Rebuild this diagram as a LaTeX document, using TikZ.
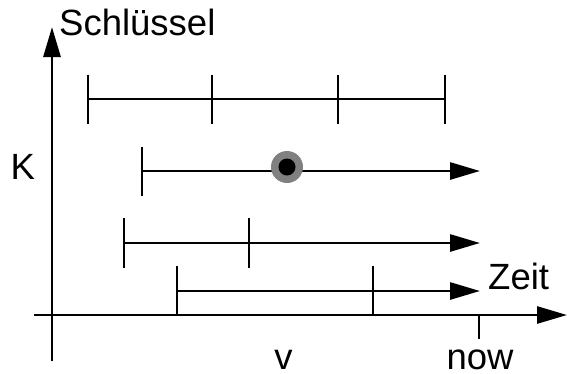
\documentclass[tikz,border=0pt]{standalone}
\usepackage{fontspec}
\setmainfont{Liberation Sans}
\usetikzlibrary{arrows.meta}
\begin{document}
\begin{tikzpicture}[x=1pt,y=-1pt,
  line/.style={line width=2.8pt},
  arr/.style={line, -{Triangle[length=30pt,width=17pt]}},
  tick/.style={line},
  lbl/.style={inner sep=0pt, font=\fontsize{36.5}{40}\selectfont}]
\useasboundingbox (0,0) rectangle (567,373);

% axes
\coordinate (yb) at (52,361);
\coordinate (yt) at (52,27);
\coordinate (xl) at (34,315);
\coordinate (xr) at (567,315);
\draw[arr] (yb) -- (yt);
\draw[arr] (xl) -- (xr);
\coordinate (now0) at (479,315);
\coordinate (now1) at (479,339);
\draw[tick] (now0) -- (now1);

% interval 1: closed, with inner ticks
\coordinate (a0) at (88,99);
\coordinate (a1) at (445,99);
\draw[line] (a0) -- (a1);
\foreach \x in {88,212,338,445}
  \draw[tick] (\x,74.5) -- (\x,123.5);

% interval 2: open to now, with a marked point
\coordinate (b0) at (142,171);
\coordinate (b1) at (480,171);
\draw[arr] (b0) -- (b1);
\draw[tick] (142,146.5) -- (142,195.5);
\node[circle, fill=gray, minimum size=32pt, inner sep=0pt] (dot) at (287,167) {};
\node[circle, fill=black, minimum size=17pt, inner sep=0pt] at (dot) {};

% interval 3
\coordinate (c0) at (124,243);
\coordinate (c1) at (480,243);
\draw[arr] (c0) -- (c1);
\foreach \x in {124,249}
  \draw[tick] (\x,218) -- (\x,268);

% interval 4
\coordinate (d0) at (177,291);
\coordinate (d1) at (480,291);
\draw[arr] (d0) -- (d1);
\foreach \x in {177,373}
  \draw[tick] (\x,266) -- (\x,315);

% labels
\node[lbl, anchor=base west] (schl) at (59,35) {Schlüssel};
\node[lbl, anchor=base west] (zeit) at (488,289.5) {Zeit};
\node[lbl, anchor=base west] (k) at (10.5,179) {K};
\node[lbl, anchor=base] (v) at (283.5,369.5) {v};
\node[lbl, anchor=base] (nw) at (480,369.5) {now};
\end{tikzpicture}
\end{document}
